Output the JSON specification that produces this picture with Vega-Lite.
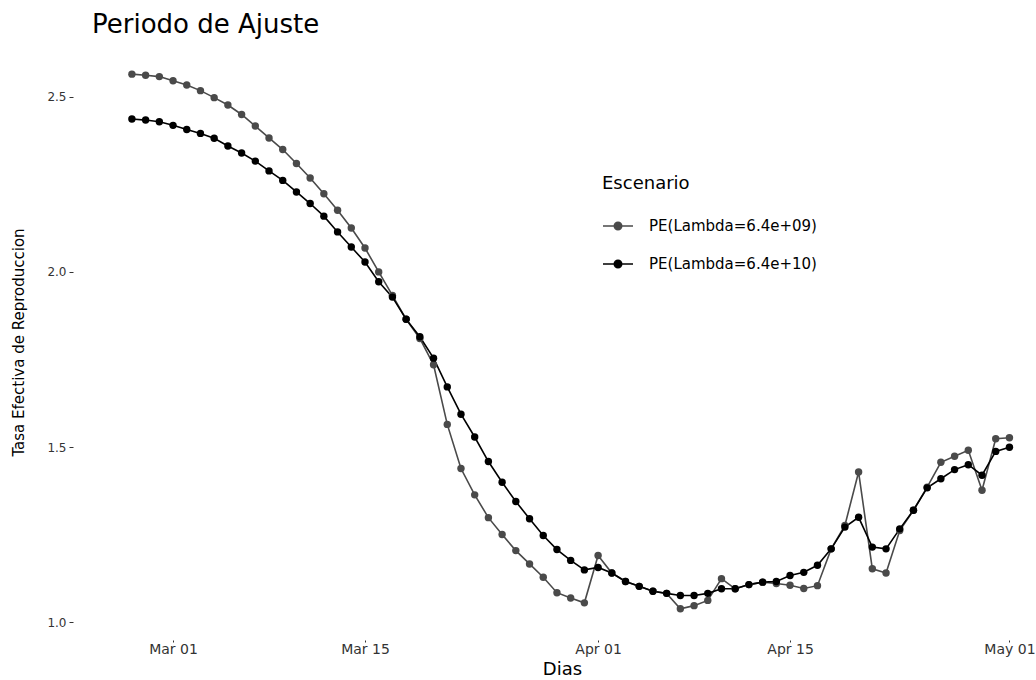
{
  "$schema": "https://vega.github.io/schema/vega-lite/v6.json",
  "width": 949,
  "height": 596,
  "autosize": {"type": "none"},
  "padding": {"left": 87, "top": 44, "right": 0, "bottom": 40},
  "background": "white",
  "config": {
    "font": "DejaVu Sans",
    "view": {"stroke": null},
    "axis": {"grid": false, "domain": false, "tickColor": "#333333", "labelColor": "#333333", "titleColor": "#000000", "titleFontWeight": "normal"}
  },
  "title": {
    "text": "Periodo de Ajuste",
    "anchor": "start",
    "frame": "group",
    "fontSize": 26,
    "fontWeight": "normal",
    "color": "#000000",
    "baseline": "alphabetic",
    "offset": 14,
    "dx": 5,
    "dy": 29
  },
  "data": {
    "values": [
      {"fecha": "2020-02-27", "escenario": "PE(Lambda=6.4e+09)", "tasa": 2.564},
      {"fecha": "2020-02-28", "escenario": "PE(Lambda=6.4e+09)", "tasa": 2.561},
      {"fecha": "2020-02-29", "escenario": "PE(Lambda=6.4e+09)", "tasa": 2.557},
      {"fecha": "2020-03-01", "escenario": "PE(Lambda=6.4e+09)", "tasa": 2.545},
      {"fecha": "2020-03-02", "escenario": "PE(Lambda=6.4e+09)", "tasa": 2.533},
      {"fecha": "2020-03-03", "escenario": "PE(Lambda=6.4e+09)", "tasa": 2.517},
      {"fecha": "2020-03-04", "escenario": "PE(Lambda=6.4e+09)", "tasa": 2.497},
      {"fecha": "2020-03-05", "escenario": "PE(Lambda=6.4e+09)", "tasa": 2.476},
      {"fecha": "2020-03-06", "escenario": "PE(Lambda=6.4e+09)", "tasa": 2.449},
      {"fecha": "2020-03-07", "escenario": "PE(Lambda=6.4e+09)", "tasa": 2.416},
      {"fecha": "2020-03-08", "escenario": "PE(Lambda=6.4e+09)", "tasa": 2.382},
      {"fecha": "2020-03-09", "escenario": "PE(Lambda=6.4e+09)", "tasa": 2.349},
      {"fecha": "2020-03-10", "escenario": "PE(Lambda=6.4e+09)", "tasa": 2.309},
      {"fecha": "2020-03-11", "escenario": "PE(Lambda=6.4e+09)", "tasa": 2.268},
      {"fecha": "2020-03-12", "escenario": "PE(Lambda=6.4e+09)", "tasa": 2.223},
      {"fecha": "2020-03-13", "escenario": "PE(Lambda=6.4e+09)", "tasa": 2.176},
      {"fecha": "2020-03-14", "escenario": "PE(Lambda=6.4e+09)", "tasa": 2.125},
      {"fecha": "2020-03-15", "escenario": "PE(Lambda=6.4e+09)", "tasa": 2.068},
      {"fecha": "2020-03-16", "escenario": "PE(Lambda=6.4e+09)", "tasa": 2.000},
      {"fecha": "2020-03-17", "escenario": "PE(Lambda=6.4e+09)", "tasa": 1.933},
      {"fecha": "2020-03-18", "escenario": "PE(Lambda=6.4e+09)", "tasa": 1.865},
      {"fecha": "2020-03-19", "escenario": "PE(Lambda=6.4e+09)", "tasa": 1.810},
      {"fecha": "2020-03-20", "escenario": "PE(Lambda=6.4e+09)", "tasa": 1.735},
      {"fecha": "2020-03-21", "escenario": "PE(Lambda=6.4e+09)", "tasa": 1.565},
      {"fecha": "2020-03-22", "escenario": "PE(Lambda=6.4e+09)", "tasa": 1.439},
      {"fecha": "2020-03-23", "escenario": "PE(Lambda=6.4e+09)", "tasa": 1.364},
      {"fecha": "2020-03-24", "escenario": "PE(Lambda=6.4e+09)", "tasa": 1.299},
      {"fecha": "2020-03-25", "escenario": "PE(Lambda=6.4e+09)", "tasa": 1.251},
      {"fecha": "2020-03-26", "escenario": "PE(Lambda=6.4e+09)", "tasa": 1.205},
      {"fecha": "2020-03-27", "escenario": "PE(Lambda=6.4e+09)", "tasa": 1.167},
      {"fecha": "2020-03-28", "escenario": "PE(Lambda=6.4e+09)", "tasa": 1.129},
      {"fecha": "2020-03-29", "escenario": "PE(Lambda=6.4e+09)", "tasa": 1.085},
      {"fecha": "2020-03-30", "escenario": "PE(Lambda=6.4e+09)", "tasa": 1.070},
      {"fecha": "2020-03-31", "escenario": "PE(Lambda=6.4e+09)", "tasa": 1.056},
      {"fecha": "2020-04-01", "escenario": "PE(Lambda=6.4e+09)", "tasa": 1.191},
      {"fecha": "2020-04-02", "escenario": "PE(Lambda=6.4e+09)", "tasa": 1.141},
      {"fecha": "2020-04-03", "escenario": "PE(Lambda=6.4e+09)", "tasa": 1.117},
      {"fecha": "2020-04-04", "escenario": "PE(Lambda=6.4e+09)", "tasa": 1.103},
      {"fecha": "2020-04-05", "escenario": "PE(Lambda=6.4e+09)", "tasa": 1.089},
      {"fecha": "2020-04-06", "escenario": "PE(Lambda=6.4e+09)", "tasa": 1.083},
      {"fecha": "2020-04-07", "escenario": "PE(Lambda=6.4e+09)", "tasa": 1.039},
      {"fecha": "2020-04-08", "escenario": "PE(Lambda=6.4e+09)", "tasa": 1.048},
      {"fecha": "2020-04-09", "escenario": "PE(Lambda=6.4e+09)", "tasa": 1.063},
      {"fecha": "2020-04-10", "escenario": "PE(Lambda=6.4e+09)", "tasa": 1.125},
      {"fecha": "2020-04-11", "escenario": "PE(Lambda=6.4e+09)", "tasa": 1.096},
      {"fecha": "2020-04-12", "escenario": "PE(Lambda=6.4e+09)", "tasa": 1.108},
      {"fecha": "2020-04-13", "escenario": "PE(Lambda=6.4e+09)", "tasa": 1.115},
      {"fecha": "2020-04-14", "escenario": "PE(Lambda=6.4e+09)", "tasa": 1.111},
      {"fecha": "2020-04-15", "escenario": "PE(Lambda=6.4e+09)", "tasa": 1.106},
      {"fecha": "2020-04-16", "escenario": "PE(Lambda=6.4e+09)", "tasa": 1.097},
      {"fecha": "2020-04-17", "escenario": "PE(Lambda=6.4e+09)", "tasa": 1.105},
      {"fecha": "2020-04-18", "escenario": "PE(Lambda=6.4e+09)", "tasa": 1.210},
      {"fecha": "2020-04-19", "escenario": "PE(Lambda=6.4e+09)", "tasa": 1.277},
      {"fecha": "2020-04-20", "escenario": "PE(Lambda=6.4e+09)", "tasa": 1.429},
      {"fecha": "2020-04-21", "escenario": "PE(Lambda=6.4e+09)", "tasa": 1.153},
      {"fecha": "2020-04-22", "escenario": "PE(Lambda=6.4e+09)", "tasa": 1.141},
      {"fecha": "2020-04-23", "escenario": "PE(Lambda=6.4e+09)", "tasa": 1.262},
      {"fecha": "2020-04-24", "escenario": "PE(Lambda=6.4e+09)", "tasa": 1.320},
      {"fecha": "2020-04-25", "escenario": "PE(Lambda=6.4e+09)", "tasa": 1.386},
      {"fecha": "2020-04-26", "escenario": "PE(Lambda=6.4e+09)", "tasa": 1.457},
      {"fecha": "2020-04-27", "escenario": "PE(Lambda=6.4e+09)", "tasa": 1.474},
      {"fecha": "2020-04-28", "escenario": "PE(Lambda=6.4e+09)", "tasa": 1.491},
      {"fecha": "2020-04-29", "escenario": "PE(Lambda=6.4e+09)", "tasa": 1.377},
      {"fecha": "2020-04-30", "escenario": "PE(Lambda=6.4e+09)", "tasa": 1.524},
      {"fecha": "2020-05-01", "escenario": "PE(Lambda=6.4e+09)", "tasa": 1.527},
      {"fecha": "2020-02-27", "escenario": "PE(Lambda=6.4e+10)", "tasa": 2.436},
      {"fecha": "2020-02-28", "escenario": "PE(Lambda=6.4e+10)", "tasa": 2.433},
      {"fecha": "2020-02-29", "escenario": "PE(Lambda=6.4e+10)", "tasa": 2.428},
      {"fecha": "2020-03-01", "escenario": "PE(Lambda=6.4e+10)", "tasa": 2.418},
      {"fecha": "2020-03-02", "escenario": "PE(Lambda=6.4e+10)", "tasa": 2.406},
      {"fecha": "2020-03-03", "escenario": "PE(Lambda=6.4e+10)", "tasa": 2.395},
      {"fecha": "2020-03-04", "escenario": "PE(Lambda=6.4e+10)", "tasa": 2.381},
      {"fecha": "2020-03-05", "escenario": "PE(Lambda=6.4e+10)", "tasa": 2.359},
      {"fecha": "2020-03-06", "escenario": "PE(Lambda=6.4e+10)", "tasa": 2.339},
      {"fecha": "2020-03-07", "escenario": "PE(Lambda=6.4e+10)", "tasa": 2.316},
      {"fecha": "2020-03-08", "escenario": "PE(Lambda=6.4e+10)", "tasa": 2.288},
      {"fecha": "2020-03-09", "escenario": "PE(Lambda=6.4e+10)", "tasa": 2.261},
      {"fecha": "2020-03-10", "escenario": "PE(Lambda=6.4e+10)", "tasa": 2.228},
      {"fecha": "2020-03-11", "escenario": "PE(Lambda=6.4e+10)", "tasa": 2.195},
      {"fecha": "2020-03-12", "escenario": "PE(Lambda=6.4e+10)", "tasa": 2.159},
      {"fecha": "2020-03-13", "escenario": "PE(Lambda=6.4e+10)", "tasa": 2.114},
      {"fecha": "2020-03-14", "escenario": "PE(Lambda=6.4e+10)", "tasa": 2.071},
      {"fecha": "2020-03-15", "escenario": "PE(Lambda=6.4e+10)", "tasa": 2.028},
      {"fecha": "2020-03-16", "escenario": "PE(Lambda=6.4e+10)", "tasa": 1.972},
      {"fecha": "2020-03-17", "escenario": "PE(Lambda=6.4e+10)", "tasa": 1.928},
      {"fecha": "2020-03-18", "escenario": "PE(Lambda=6.4e+10)", "tasa": 1.865},
      {"fecha": "2020-03-19", "escenario": "PE(Lambda=6.4e+10)", "tasa": 1.815},
      {"fecha": "2020-03-20", "escenario": "PE(Lambda=6.4e+10)", "tasa": 1.754},
      {"fecha": "2020-03-21", "escenario": "PE(Lambda=6.4e+10)", "tasa": 1.672},
      {"fecha": "2020-03-22", "escenario": "PE(Lambda=6.4e+10)", "tasa": 1.594},
      {"fecha": "2020-03-23", "escenario": "PE(Lambda=6.4e+10)", "tasa": 1.529},
      {"fecha": "2020-03-24", "escenario": "PE(Lambda=6.4e+10)", "tasa": 1.459},
      {"fecha": "2020-03-25", "escenario": "PE(Lambda=6.4e+10)", "tasa": 1.400},
      {"fecha": "2020-03-26", "escenario": "PE(Lambda=6.4e+10)", "tasa": 1.345},
      {"fecha": "2020-03-27", "escenario": "PE(Lambda=6.4e+10)", "tasa": 1.296},
      {"fecha": "2020-03-28", "escenario": "PE(Lambda=6.4e+10)", "tasa": 1.248},
      {"fecha": "2020-03-29", "escenario": "PE(Lambda=6.4e+10)", "tasa": 1.208},
      {"fecha": "2020-03-30", "escenario": "PE(Lambda=6.4e+10)", "tasa": 1.177},
      {"fecha": "2020-03-31", "escenario": "PE(Lambda=6.4e+10)", "tasa": 1.150},
      {"fecha": "2020-04-01", "escenario": "PE(Lambda=6.4e+10)", "tasa": 1.157},
      {"fecha": "2020-04-02", "escenario": "PE(Lambda=6.4e+10)", "tasa": 1.141},
      {"fecha": "2020-04-03", "escenario": "PE(Lambda=6.4e+10)", "tasa": 1.117},
      {"fecha": "2020-04-04", "escenario": "PE(Lambda=6.4e+10)", "tasa": 1.103},
      {"fecha": "2020-04-05", "escenario": "PE(Lambda=6.4e+10)", "tasa": 1.089},
      {"fecha": "2020-04-06", "escenario": "PE(Lambda=6.4e+10)", "tasa": 1.083},
      {"fecha": "2020-04-07", "escenario": "PE(Lambda=6.4e+10)", "tasa": 1.077},
      {"fecha": "2020-04-08", "escenario": "PE(Lambda=6.4e+10)", "tasa": 1.077},
      {"fecha": "2020-04-09", "escenario": "PE(Lambda=6.4e+10)", "tasa": 1.083},
      {"fecha": "2020-04-10", "escenario": "PE(Lambda=6.4e+10)", "tasa": 1.096},
      {"fecha": "2020-04-11", "escenario": "PE(Lambda=6.4e+10)", "tasa": 1.096},
      {"fecha": "2020-04-12", "escenario": "PE(Lambda=6.4e+10)", "tasa": 1.108},
      {"fecha": "2020-04-13", "escenario": "PE(Lambda=6.4e+10)", "tasa": 1.115},
      {"fecha": "2020-04-14", "escenario": "PE(Lambda=6.4e+10)", "tasa": 1.117},
      {"fecha": "2020-04-15", "escenario": "PE(Lambda=6.4e+10)", "tasa": 1.134},
      {"fecha": "2020-04-16", "escenario": "PE(Lambda=6.4e+10)", "tasa": 1.143},
      {"fecha": "2020-04-17", "escenario": "PE(Lambda=6.4e+10)", "tasa": 1.163},
      {"fecha": "2020-04-18", "escenario": "PE(Lambda=6.4e+10)", "tasa": 1.210},
      {"fecha": "2020-04-19", "escenario": "PE(Lambda=6.4e+10)", "tasa": 1.272},
      {"fecha": "2020-04-20", "escenario": "PE(Lambda=6.4e+10)", "tasa": 1.300},
      {"fecha": "2020-04-21", "escenario": "PE(Lambda=6.4e+10)", "tasa": 1.215},
      {"fecha": "2020-04-22", "escenario": "PE(Lambda=6.4e+10)", "tasa": 1.210},
      {"fecha": "2020-04-23", "escenario": "PE(Lambda=6.4e+10)", "tasa": 1.267},
      {"fecha": "2020-04-24", "escenario": "PE(Lambda=6.4e+10)", "tasa": 1.320},
      {"fecha": "2020-04-25", "escenario": "PE(Lambda=6.4e+10)", "tasa": 1.384},
      {"fecha": "2020-04-26", "escenario": "PE(Lambda=6.4e+10)", "tasa": 1.410},
      {"fecha": "2020-04-27", "escenario": "PE(Lambda=6.4e+10)", "tasa": 1.436},
      {"fecha": "2020-04-28", "escenario": "PE(Lambda=6.4e+10)", "tasa": 1.450},
      {"fecha": "2020-04-29", "escenario": "PE(Lambda=6.4e+10)", "tasa": 1.420},
      {"fecha": "2020-04-30", "escenario": "PE(Lambda=6.4e+10)", "tasa": 1.488},
      {"fecha": "2020-05-01", "escenario": "PE(Lambda=6.4e+10)", "tasa": 1.500}
    ]
  },
  "encoding": {
    "x": {
      "field": "fecha",
      "type": "temporal",
      "scale": {
        "type": "utc",
        "domain": [
          {"year": 2020, "month": 2, "date": 23, "hours": 17, "minutes": 24, "utc": true},
          {"year": 2020, "month": 5, "date": 2, "hours": 22, "minutes": 30, "utc": true}
        ]
      },
      "axis": {
        "title": "Dias",
        "titleFontSize": 18,
        "titleX": 475,
        "titleY": 29,
        "titleAlign": "center",
        "titleBaseline": "middle",
        "values": [
          {"year": 2020, "month": 3, "date": 1, "utc": true},
          {"year": 2020, "month": 3, "date": 15, "utc": true},
          {"year": 2020, "month": 4, "date": 1, "utc": true},
          {"year": 2020, "month": 4, "date": 15, "utc": true},
          {"year": 2020, "month": 5, "date": 1, "utc": true}
        ],
        "labelExpr": "utcFormat(datum.value, '%b %d')",
        "labelFontSize": 14,
        "tickSize": 2,
        "labelPadding": 0
      }
    },
    "y": {
      "field": "tasa",
      "type": "quantitative",
      "scale": {"domain": [0.95, 2.65], "nice": false, "zero": false},
      "axis": {
        "title": "Tasa Efectiva de Reproduccion",
        "titleFontSize": 15,
        "titleX": -55,
        "titleY": 298,
        "titleAngle": -90,
        "titleAlign": "center",
        "titleBaseline": "middle",
        "values": [1.0, 1.5, 2.0, 2.5],
        "format": ".1f",
        "labelFontSize": 12,
        "tickSize": 4,
        "offset": 14,
        "labelPadding": 3
      }
    },
    "color": {
      "field": "escenario",
      "type": "nominal",
      "scale": {
        "domain": ["PE(Lambda=6.4e+09)", "PE(Lambda=6.4e+10)"],
        "range": ["#4a4a4a", "#000000"]
      },
      "legend": {
        "orient": "none",
        "legendX": 515,
        "legendY": 131,
        "padding": 0,
        "title": "Escenario",
        "titleFontSize": 18,
        "titleFontWeight": "normal",
        "titleColor": "#000000",
        "titlePadding": 17,
        "labelFontSize": 15,
        "labelLimit": 320,
        "labelColor": "#000000",
        "labelOffset": 15,
        "symbolType": "M-1,0L1,0M-0.25,0A0.25,0.25,0,1,0,0.25,0A0.25,0.25,0,1,0,-0.25,0Z",
        "symbolSize": 900,
        "symbolStrokeWidth": 1.5,
        "rowPadding": 14
      }
    }
  },
  "layer": [
    {"mark": {"type": "line", "strokeWidth": 1.6}},
    {"mark": {"type": "point", "filled": true, "size": 55, "opacity": 1}}
  ]
}
